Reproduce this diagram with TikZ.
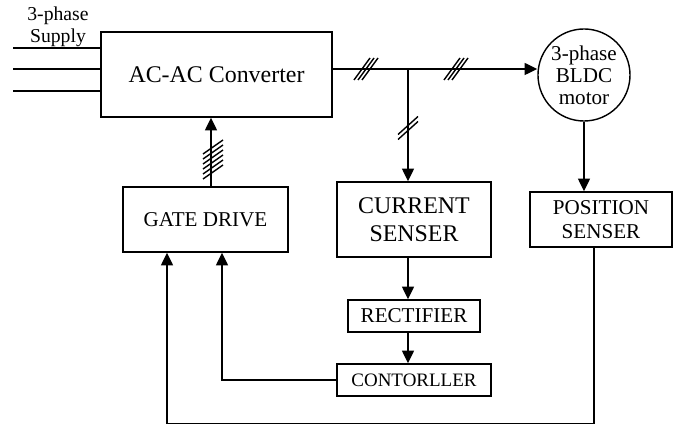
\documentclass[tikz,border=0pt]{standalone}
\usepackage{fontspec}
\setmainfont{Liberation Serif}
\usetikzlibrary{arrows.meta,calc}

\begin{document}
\begin{tikzpicture}[x=0.025cm, y=-0.025cm, line width=1pt,
  >={Triangle[length=9pt,width=8.5pt]},
  block/.style={draw, line width=1pt, align=center, inner sep=0pt},
  big/.style={font=\fontsize{17}{20}\selectfont},
  mid/.style={font=\fontsize{15}{17}\selectfont},
]
  \useasboundingbox (0,0) rectangle (679,425);
  % power path
  \node[block, big, minimum width=5.775cm, minimum height=2.125cm] (conv) at (216.5,74.5) {AC-AC Converter};
  \node[align=center, inner sep=0pt, font=\fontsize{14}{15.6}\selectfont] (supply) at (58,27) {3-phase\\Supply};
  \node[draw, circle, line width=1pt, minimum size=2.3cm, align=center, inner sep=0pt,
        font=\fontsize{15}{15.6}\selectfont] (motor) at (584,75) {3-phase\\BLDC\\motor};
  % sensing and control blocks
  \node[block, mid, minimum width=4.125cm, minimum height=1.625cm] (gate) at (205.5,219.5) {GATE DRIVE};
  \node[block, big, minimum width=3.85cm, minimum height=1.875cm] (cur) at (414,219.5) {CURRENT\\SENSER};
  \node[block, mid, minimum width=3.55cm, minimum height=1.375cm] (pos) at (601,219.5) {POSITION\\SENSER};
  \node[block, mid, minimum width=3.3cm, minimum height=0.8cm] (rect) at (414,316) {RECTIFIER};
  \node[block, font=\fontsize{13.5}{16}\selectfont, minimum width=3.85cm, minimum height=0.8cm] (ctrl) at (414,380) {CONTORLLER};

  % three supply lines
  \foreach \y [count=\i] in {48,69,91} {
    \coordinate (in\i) at (13,\y);
    \draw (in\i) -- (in\i -| conv.west);
  }
  % converter output to motor and current senser
  \coordinate (tap) at (408,69);
  \draw (tap -| conv.east) -- (tap);
  \draw[->] (tap) -- (tap -| motor.west);
  \draw[->] (tap) -- (tap |- cur.north);
  \foreach \dx in {-4,0,4} {
    \draw (366+\dx-8,80) -- (366+\dx+8,58);
    \draw (456+\dx-8,80) -- (456+\dx+8,58);
  }
  \foreach \dy in {-2.5,2.5}
    \draw (398,128+\dy+9) -- (418,128+\dy-9);

  % motor to position senser
  \draw[->] (motor.south) -- (motor.south |- pos.north);
  % gate drive to converter
  \coordinate (gd) at ($(gate.north)+(5.5,0)$);
  \draw[->] (gd) -- (gd |- conv.south);
  \foreach \y in {147,152,157,162,167,172}
    \draw (203,\y+7) -- (223,\y-7);

  % current path down to controller
  \draw[->] (cur.south -| tap) -- (rect.north -| tap);
  \draw[->] (rect.south -| tap) -- (ctrl.north -| tap);
  % feedback loops
  \draw[->] (ctrl.west) -| ($(gate.south)+(16.5,0)$);
  \draw[->] ($(pos.south)+(-7,0)$) -- ++(0,176) -| ($(gate.south)+(-38.5,0)$);
\end{tikzpicture}
\end{document}
